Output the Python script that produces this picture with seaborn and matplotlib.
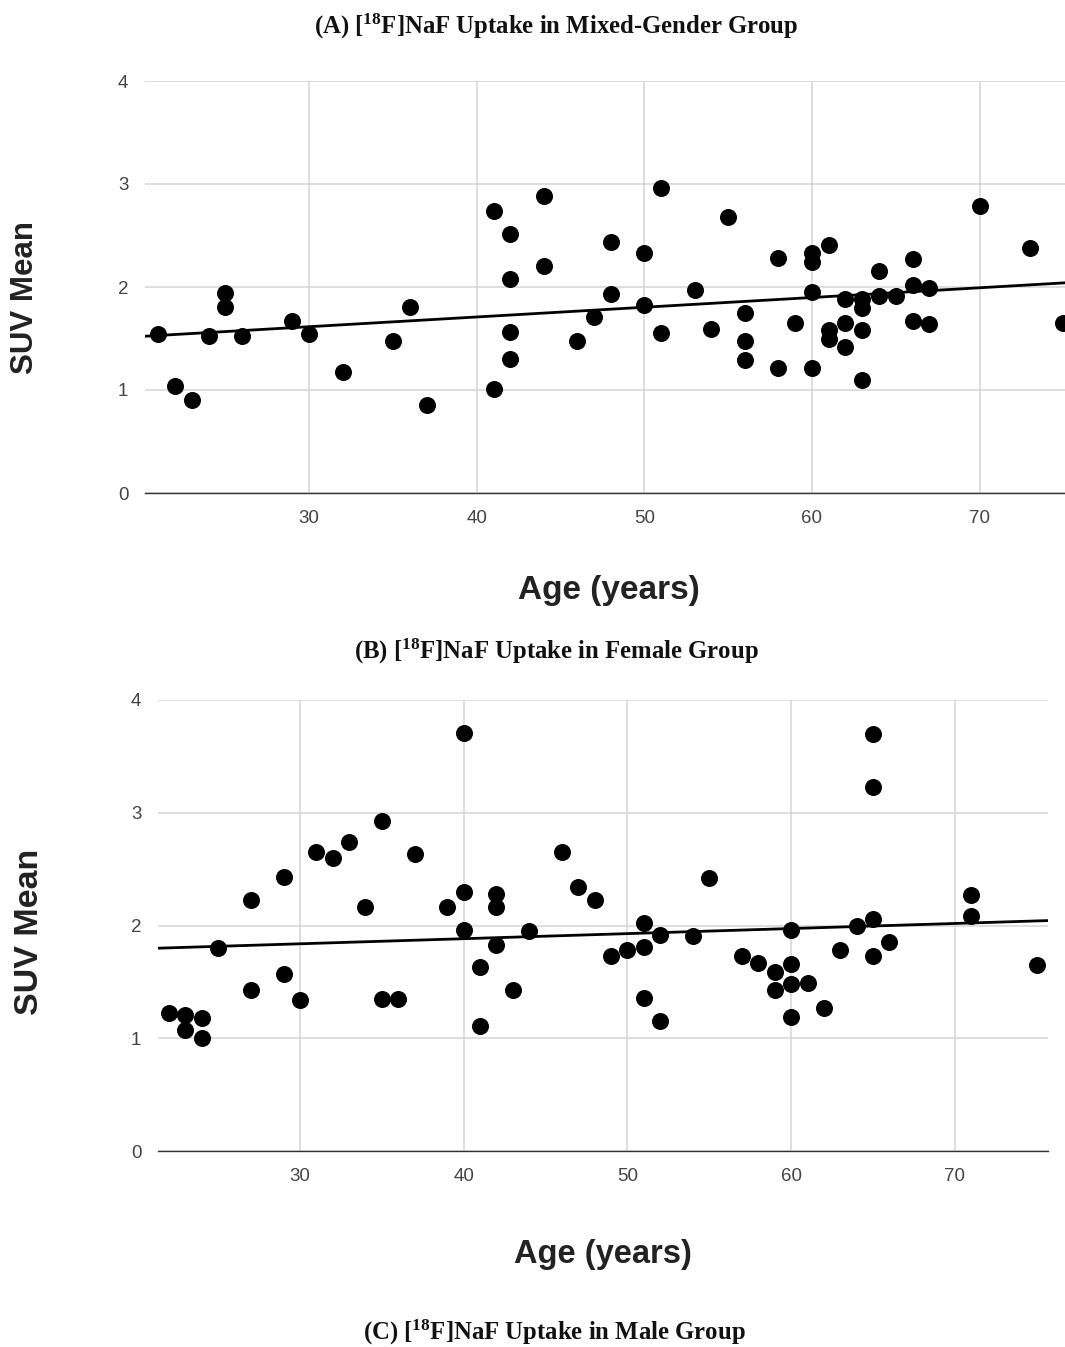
import matplotlib
matplotlib.use("Agg")
import matplotlib.pyplot as plt
import numpy as np
import pandas as pd
import seaborn as sns

# ---------------- data ----------------
mixed_age = [21, 22, 23, 24, 25, 25, 26, 29, 30, 32, 35, 36, 37,
             41, 41, 42, 42, 42, 42, 44, 44, 46, 47, 48, 48, 50, 50, 51, 51,
             53, 54, 55, 56, 56, 56, 58, 58, 59, 60, 60, 60, 60, 61, 61, 61,
             62, 62, 62, 63, 63, 63, 63, 64, 64, 65, 66, 66, 66, 67, 67,
             70, 73, 75]
mixed_suv = [1.54, 1.04, 0.90, 1.52, 1.94, 1.81, 1.52, 1.67, 1.54, 1.17, 1.48, 1.81, 0.85,
             2.74, 1.01, 2.51, 2.08, 1.56, 1.30, 2.88, 2.20, 1.48, 1.71, 2.44, 1.93, 2.33, 1.83, 2.96, 1.55,
             1.97, 1.59, 2.68, 1.75, 1.48, 1.29, 2.28, 1.21, 1.65, 2.33, 2.24, 1.95, 1.21, 2.41, 1.58, 1.50,
             1.88, 1.65, 1.42, 1.88, 1.80, 1.58, 1.10, 2.16, 1.91, 1.91, 2.27, 2.02, 1.67, 1.99, 1.64,
             2.79, 2.38, 1.65]

female_age = [22, 23, 23, 24, 24, 25, 27, 27, 29, 29, 30, 31, 32, 33, 34, 35, 35, 36, 37, 39,
              40, 40, 40, 41, 41, 42, 42, 42, 43, 44, 46, 47, 48, 49, 50, 51, 51, 51, 52, 52,
              54, 55, 57, 58, 59, 59, 60, 60, 60, 60, 61, 62, 63, 64, 65, 65, 65, 65, 66,
              71, 71, 75]
female_suv = [1.22, 1.21, 1.07, 1.18, 1.00, 1.80, 2.23, 1.43, 2.43, 1.57, 1.34, 2.65, 2.60, 2.74, 2.16, 2.93, 1.35, 1.35, 2.63, 2.16,
              3.71, 2.30, 1.96, 1.63, 1.11, 2.28, 2.16, 1.83, 1.43, 1.95, 2.65, 2.34, 2.23, 1.73, 1.78, 2.02, 1.81, 1.36, 1.92, 1.15,
              1.91, 2.42, 1.73, 1.67, 1.59, 1.43, 1.96, 1.66, 1.48, 1.19, 1.49, 1.27, 1.78, 2.00, 3.70, 3.23, 2.06, 1.73, 1.85,
              2.27, 2.08, 1.65]

titles = ["(A) [$^{18}$F]NaF Uptake in Mixed-Gender Group",
          "(B) [$^{18}$F]NaF Uptake in Female Group",
          "(C) [$^{18}$F]NaF Uptake in Male Group"]
x_label = "Age (years)"
y_label = "SUV Mean"
x_ticks = [30, 40, 50, 60, 70]
y_ticks = [0, 1, 2, 3, 4]

# ---------------- style ----------------
sns.set_theme(style="white")
plt.rcParams['font.family'] = ['Liberation Sans', 'DejaVu Sans']
plt.rcParams['mathtext.fontset'] = 'custom'
plt.rcParams['mathtext.rm'] = 'Liberation Serif:bold'
plt.rcParams['mathtext.it'] = 'Liberation Serif:bold'
plt.rcParams['mathtext.bf'] = 'Liberation Serif:bold'
plt.rcParams['mathtext.default'] = 'bf'

W, H = 1065, 1347
fig = plt.figure(figsize=(W / 100, H / 100), dpi=100)
fig.patch.set_facecolor('white')


def panel(rect, ages, suvs, xlim):
    l, t, r, b = rect
    ax = fig.add_axes([l / W, 1 - b / H, (r - l) / W, (b - t) / H])
    ax.set_xlim(*xlim)
    ax.set_ylim(0, 4)
    df = pd.DataFrame({"age": ages, "suv": suvs})
    sns.regplot(data=df, x="age", y="suv", ax=ax, ci=None, truncate=False,
                scatter_kws=dict(s=150, color="black", linewidths=0, alpha=1, zorder=3),
                line_kws=dict(color="black", lw=2.0, zorder=4))
    ax.set_xlim(*xlim)
    ax.set_ylim(0, 4)
    ax.set_xticks(x_ticks)
    ax.set_yticks(y_ticks)
    ax.set_xlabel("")
    ax.set_ylabel("")
    ax.grid(True, color="#d4d4d4", lw=1.1, zorder=0)
    ax.set_axisbelow(True)
    for s in ["top", "left", "right"]:
        ax.spines[s].set_visible(False)
    ax.spines["bottom"].set_color("#333333")
    ax.spines["bottom"].set_linewidth(1.0)
    ax.tick_params(axis="both", length=0, labelsize=13.5, labelcolor="#444444")
    ax.tick_params(axis="x", pad=12)
    ax.tick_params(axis="y", pad=12)
    return ax


axA = panel((145, 81, 1065, 493), mixed_age, mixed_suv, (20.2, 75.1))
axB = panel((158, 700, 1048, 1151), female_age, female_suv, (21.33, 75.68))

# axis labels
fig.text(609 / W, 1 - 590 / H, x_label, ha="center", va="center",
         fontsize=24, fontweight="bold", color="#222222")
fig.text(25 / W, 1 - 298 / H, y_label, ha="center", va="center", rotation=90,
         fontsize=22.5, fontweight="bold", color="#222222")
fig.text(603 / W, 1 - 1255 / H, x_label, ha="center", va="center",
         fontsize=23.5, fontweight="bold", color="#222222")
fig.text(30 / W, 1 - 932 / H, y_label, ha="center", va="center", rotation=90,
         fontsize=24.5, fontweight="bold", color="#222222")

# panel titles
for txt, (cx, cy) in zip(titles, [(556, 26), (556, 651), (554, 1332)]):
    fig.text(cx / W, 1 - cy / H, txt, ha="center", va="center",
             fontsize=17.8, fontweight="bold", family="Liberation Serif", color="#111111")

fig.savefig("out.png", dpi=100, facecolor="white")
